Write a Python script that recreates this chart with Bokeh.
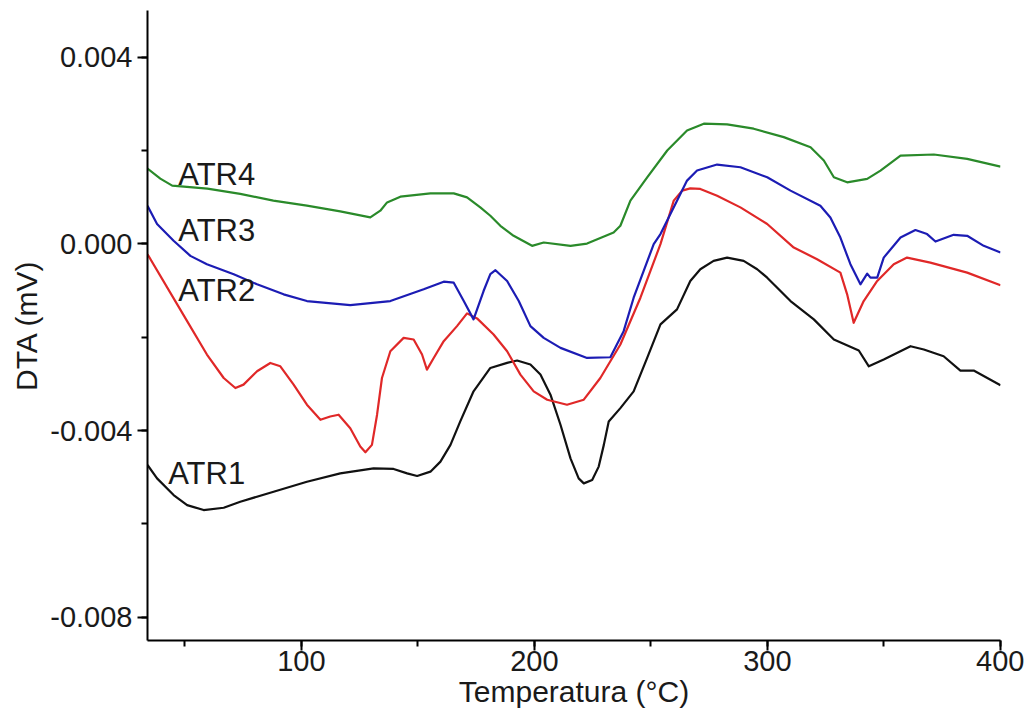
from bokeh.plotting import figure
from bokeh.models import SingleIntervalTicker, PrintfTickFormatter, Range1d, Label
from bokeh.embed import file_html
from bokeh.resources import INLINE

# ---- data (temperature in °C, DTA in units of 1e-3 mV) ----
atr4_t = [34, 39.5, 44.6, 59.7, 73.8, 88.0, 102.4, 116.7, 129.6, 133.9, 136.8, 142.5, 155.4, 165.4,
          171.1, 176.8, 181.1, 185.4, 191.1, 199.0, 204.0, 215.5, 222.6, 234.0, 236.9, 241.2,
          248.4, 257.0, 265.5, 272.7, 282.7, 294.1, 307.0, 318.5, 324.2, 328.5, 334.2, 342.8,
          348.5, 357.1, 371.4, 385.7, 400]
atr4_v = [1.613, 1.398, 1.247, 1.183, 1.069, 0.925, 0.817, 0.695, 0.566, 0.710, 0.888, 1.011, 1.082, 1.082,
          0.996, 0.781, 0.602, 0.387, 0.172, -0.043, 0.028, -0.043, 0.006, 0.243, 0.387, 0.925,
          1.426, 2.000, 2.430, 2.574, 2.559, 2.467, 2.286, 2.071, 1.785, 1.426, 1.318, 1.391,
          1.570, 1.892, 1.914, 1.821, 1.656]

atr3_t = [34, 38.1, 45.2, 52.4, 59.5, 71.0, 81.0, 92.4, 102.4, 121.0, 138.2, 152.5, 161.1, 165.4,
          169.7, 173.9, 178.2, 181.1, 183.3, 188.3, 193.3, 198.3, 204.0, 211.2, 222.6, 232.6,
          238.3, 242.6, 246.9, 251.2, 254.1, 261.2, 265.5, 269.8, 278.4, 288.4, 299.9, 309.9,
          322.7, 327.0, 331.3, 335.6, 339.9, 342.8, 344.2, 347.1, 349.9, 357.1, 363.5, 368.5,
          372.1, 379.9, 385.7, 392.8, 400]
atr3_v = [0.817, 0.424, 0.065, -0.258, -0.437, -0.652, -0.867, -1.082, -1.226, -1.312, -1.226, -0.975, -0.811, -0.832,
          -1.226, -1.619, -1.011, -0.650, -0.566, -0.796, -1.226, -1.763, -2.015, -2.230, -2.445, -2.430,
          -1.871, -1.155, -0.581, -0.006, 0.209, 0.925, 1.355, 1.570, 1.699, 1.641, 1.426, 1.140,
          0.817, 0.566, 0.135, -0.437, -0.867, -0.639, -0.725, -0.725, -0.295, 0.135, 0.295, 0.209,
          0.049, 0.194, 0.172, -0.043, -0.187]

atr2_t = [34, 51.0, 59.5, 66.7, 71.7, 75.2, 81.0, 86.7, 91.0, 96.7, 102.4, 108.2, 112.4, 116.0,
          121.0, 125.3, 127.5, 130.3, 132.5, 134.6, 138.2, 143.9, 148.2, 151.8, 153.9, 156.8,
          161.1, 166.8, 171.1, 175.4, 182.5, 188.3, 194.0, 199.7, 205.5, 214.0, 221.2, 228.3,
          236.9, 245.5, 254.1, 259.8, 263.4, 266.9, 271.2, 278.4, 288.4, 299.9, 311.3, 321.3,
          331.3, 334.2, 337.0, 341.3, 347.1, 354.2, 359.9, 369.9, 385.7, 400]
atr2_v = [-0.222, -1.656, -2.372, -2.875, -3.090, -3.017, -2.731, -2.553, -2.624, -3.017, -3.447, -3.770, -3.699, -3.662,
          -3.951, -4.344, -4.467, -4.308, -3.662, -2.875, -2.301, -2.015, -2.050, -2.372, -2.695, -2.445,
          -2.086, -1.763, -1.490, -1.598, -1.942, -2.301, -2.802, -3.161, -3.340, -3.447, -3.340, -2.875,
          -2.157, -1.155, -0.006, 0.925, 1.140, 1.189, 1.176, 1.032, 0.781, 0.424, -0.080, -0.329,
          -0.617, -1.082, -1.692, -1.226, -0.796, -0.437, -0.295, -0.402, -0.617, -0.888]

atr1_t = [34, 38.1, 45.2, 51.0, 58.1, 66.7, 73.8, 88.1, 102.4, 116.7, 131.0, 139.6, 145.4, 149.7,
          155.4, 159.7, 164.0, 168.2, 173.9, 181.1, 188.3, 192.6, 198.3, 202.6, 206.9, 211.2,
          215.5, 219.0, 221.2, 224.8, 227.6, 229.8, 231.9, 236.9, 242.6, 248.4, 254.1, 261.2,
          266.9, 271.2, 276.9, 282.7, 289.8, 295.6, 299.9, 309.9, 319.9, 328.5, 339.2, 343.5,
          349.9, 361.4, 367.1, 375.6, 382.8, 388.5, 400]
atr1_v = [-4.738, -5.026, -5.383, -5.598, -5.705, -5.656, -5.527, -5.312, -5.097, -4.918, -4.811, -4.824, -4.918, -4.975,
          -4.882, -4.667, -4.308, -3.806, -3.160, -2.660, -2.552, -2.501, -2.587, -2.802, -3.232, -3.877,
          -4.596, -5.026, -5.133, -5.060, -4.774, -4.308, -3.806, -3.520, -3.161, -2.445, -1.727, -1.404,
          -0.796, -0.544, -0.366, -0.295, -0.366, -0.544, -0.725, -1.226, -1.619, -2.049, -2.286, -2.624,
          -2.480, -2.194, -2.265, -2.409, -2.716, -2.716, -3.032]

series_names = ["ATR1", "ATR2", "ATR3", "ATR4"]


def mv(vals):
    return [v * 1e-3 for v in vals]


FONT = "Liberation Sans"

p = figure(width=1024, height=718, output_backend="svg", toolbar_location=None,
           x_range=Range1d(34, 400), y_range=Range1d(-0.0085, 0.0050),
           min_border_left=147, min_border_right=24, min_border_top=10, min_border_bottom=78)
p.outline_line_color = None
p.xgrid.visible = False
p.ygrid.visible = False
p.background_fill_color = "white"
p.border_fill_color = "white"

p.xaxis.ticker = SingleIntervalTicker(interval=100, num_minor_ticks=2)
p.yaxis.ticker = SingleIntervalTicker(interval=0.004, num_minor_ticks=2)
p.yaxis.formatter = PrintfTickFormatter(format="%.3f")
p.xaxis.axis_label = "Temperatura (°C)"
p.yaxis.axis_label = "DTA (mV)"

for ax in (p.xaxis, p.yaxis):
    ax.axis_line_width = 2
    ax.axis_line_color = "black"
    ax.major_tick_line_width = 2
    ax.minor_tick_line_width = 2
    ax.major_tick_line_color = "black"
    ax.minor_tick_line_color = "black"
    ax.major_tick_in = 0
    ax.major_tick_out = 10
    ax.minor_tick_in = 0
    ax.minor_tick_out = 6
    ax.major_label_text_font = FONT
    ax.major_label_text_font_size = "29px"
    ax.major_label_text_color = "#1a1a1a"
    ax.axis_label_text_font = FONT
    ax.axis_label_text_font_size = "30px"
    ax.axis_label_text_font_style = "normal"
    ax.axis_label_text_color = "#1a1a1a"
p.xaxis.major_label_standoff = 0
p.xaxis.axis_label_standoff = 1
p.yaxis.major_label_standoff = 5
p.yaxis.axis_label_standoff = 4

colors = {"ATR1": "#111111", "ATR2": "#e02828", "ATR3": "#1c1cb4", "ATR4": "#2a8a2a"}
data = {"ATR1": (atr1_t, atr1_v), "ATR2": (atr2_t, atr2_v),
        "ATR3": (atr3_t, atr3_v), "ATR4": (atr4_t, atr4_v)}
for name in series_names:
    t, v = data[name]
    p.line(t, mv(v), line_color=colors[name], line_width=2.2, line_join="round")

# curve labels (left edge, baseline)
label_pos = {"ATR4": (47.2, 1.49e-3), "ATR3": (47.2, 0.285e-3),
             "ATR2": (47.2, -1.0e-3), "ATR1": (42.9, -4.92e-3)}
for name in series_names:
    x, y = label_pos[name]
    p.add_layout(Label(x=x, y=y, text=name, text_font=FONT, text_font_size="31px",
                       text_color="#1a1a1a", text_baseline="alphabetic", text_align="left"))

open("out.html", "w").write(file_html(p, INLINE))
